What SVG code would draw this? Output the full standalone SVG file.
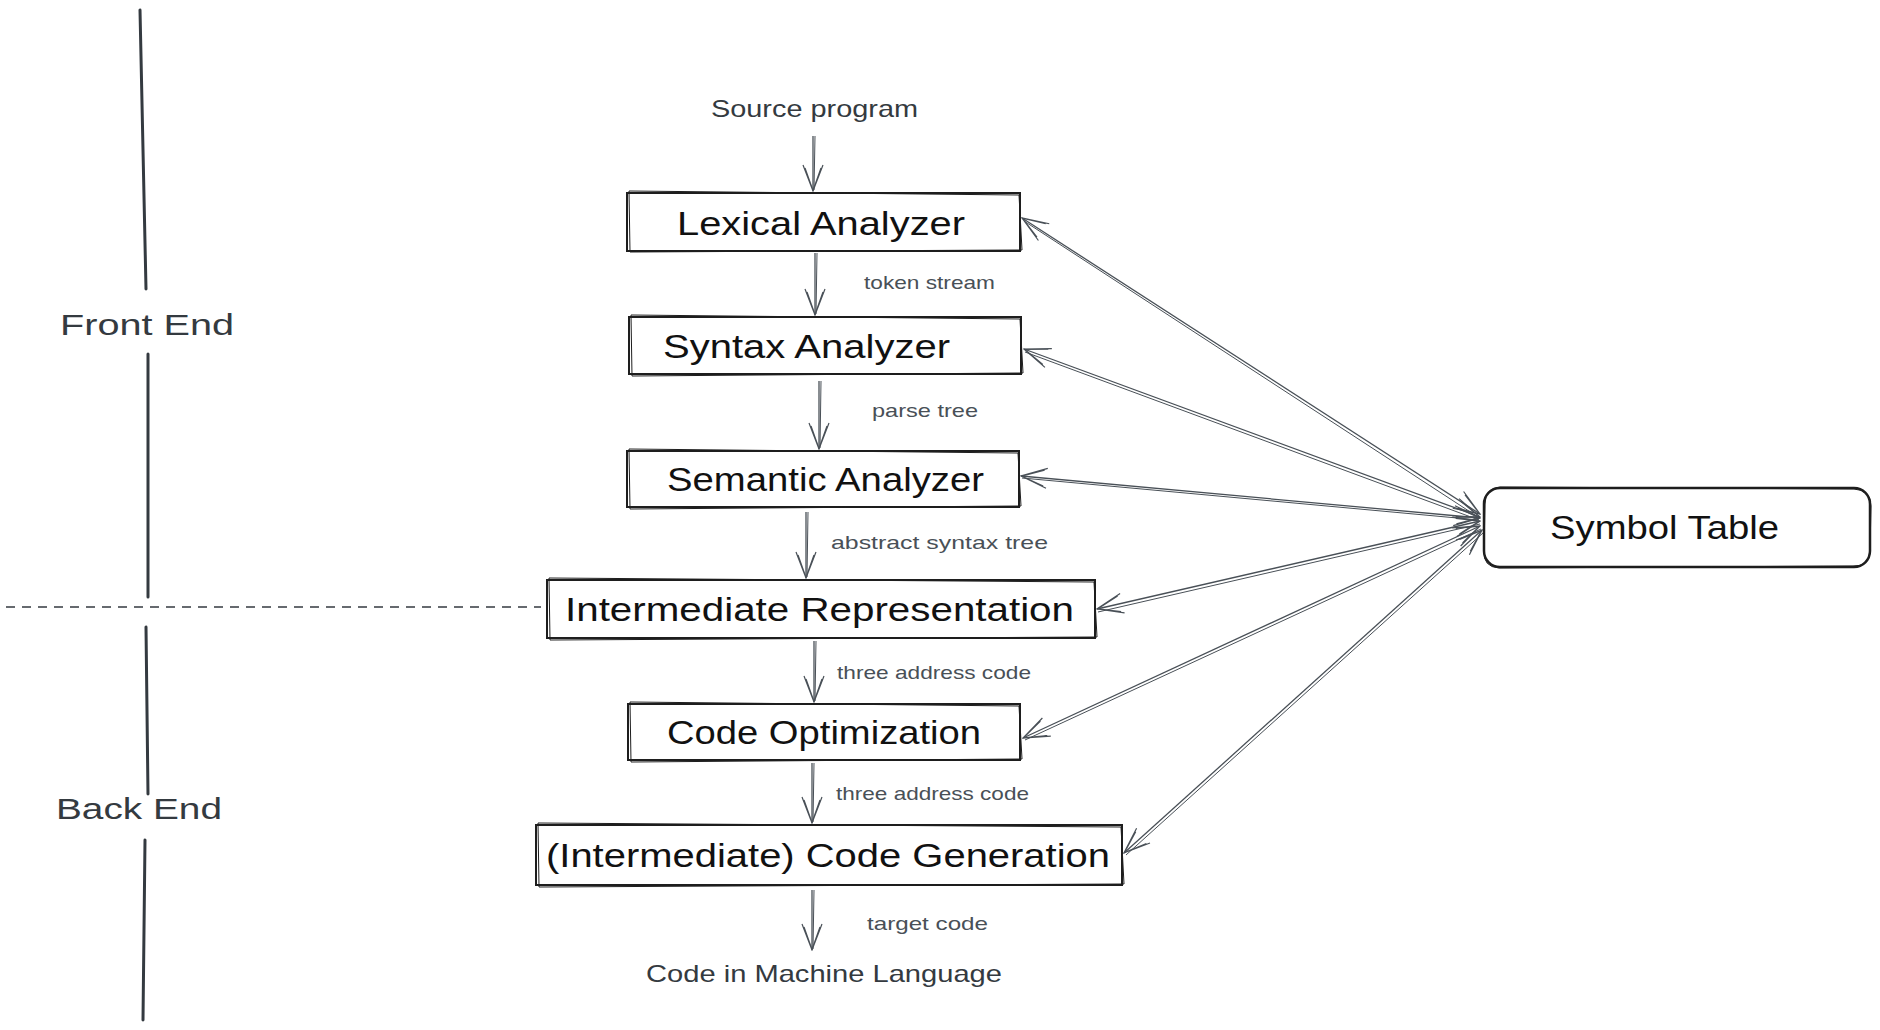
<svg xmlns="http://www.w3.org/2000/svg" width="1880" height="1030" viewBox="0 0 1880 1030">
<style>
.bg{fill:#ffffff}
.box{fill:none;stroke:#1e1e1e;stroke-width:2}
.sk{fill:none;stroke:#1e1e1e;stroke-width:1}
.lbl{font-family:"Liberation Sans","DejaVu Sans",sans-serif;font-size:34px;fill:#111111}
.mid{font-family:"Liberation Sans","DejaVu Sans",sans-serif;font-size:24px;fill:#343a40}
.side{font-family:"Liberation Sans","DejaVu Sans",sans-serif;font-size:30px;fill:#343a40}
.sm{font-family:"Liberation Sans","DejaVu Sans",sans-serif;font-size:19px;fill:#495057}
.ln{fill:none;stroke:#495057;stroke-width:1.3}
.ln2{fill:none;stroke:#495057;stroke-width:1}
.div{fill:none;stroke:#343a40;stroke-width:3;stroke-linecap:round}
.dash{fill:none;stroke:#343a40;stroke-width:1.5;stroke-dasharray:9 7}
</style>
<defs>
<marker id="ah" viewBox="0 0 28 24" refX="27" refY="12" markerWidth="28" markerHeight="24" markerUnits="userSpaceOnUse" orient="auto-start-reverse">
<path d="M1,2 L27,12 L1,22 M4,4 L26.5,12 L4,20" fill="none" stroke="#495057" stroke-width="1.2"/>
</marker>
</defs>
<rect class="bg" x="0" y="0" width="1880" height="1030"/>

<g id="dividers">
<path class="div" d="M140,10 L146,289"/>
<path class="div" d="M148,354 L148,597"/>
<path class="div" d="M146,627 L148,794"/>
<path class="div" d="M145,840 L143,1020"/>
<path class="dash" d="M6,607 L541,607"/>
<text class="side" x="60" y="335" textLength="174" lengthAdjust="spacingAndGlyphs">Front End</text>
<text class="side" x="56" y="819" textLength="166" lengthAdjust="spacingAndGlyphs">Back End</text>
</g>

<g id="connectors">
<path class="ln" d="M813,136 L813,191" marker-end="url(#ah)"/>
<path class="ln2" d="M815,136 L814,190"/>
<path class="ln" d="M815,253 L815,315" marker-end="url(#ah)"/>
<path class="ln2" d="M817,253 L816,314"/>
<path class="ln" d="M819,381 L819,449" marker-end="url(#ah)"/>
<path class="ln2" d="M821,381 L820,448"/>
<path class="ln" d="M806,512 L806,578" marker-end="url(#ah)"/>
<path class="ln2" d="M808,512 L807,577"/>
<path class="ln" d="M814,641 L814,702" marker-end="url(#ah)"/>
<path class="ln2" d="M816,641 L815,701"/>
<path class="ln" d="M812,763 L812,823" marker-end="url(#ah)"/>
<path class="ln2" d="M814,763 L813,822"/>
<path class="ln" d="M812,890 L812,950" marker-end="url(#ah)"/>
<path class="ln2" d="M814,890 L813,949"/>

<path class="ln" d="M1480,514 L1022,218" marker-start="url(#ah)" marker-end="url(#ah)"/>
<path class="ln2" d="M1478,517 L1024,221"/>
<path class="ln" d="M1480,517 L1024,349" marker-start="url(#ah)" marker-end="url(#ah)"/>
<path class="ln2" d="M1479,520 L1025,352"/>
<path class="ln" d="M1480,518 L1021,476" marker-start="url(#ah)" marker-end="url(#ah)"/>
<path class="ln2" d="M1479,520 L1022,478"/>
<path class="ln" d="M1480,521 L1097,609" marker-start="url(#ah)" marker-end="url(#ah)"/>
<path class="ln2" d="M1480,524 L1098,612"/>
<path class="ln" d="M1480,526 L1023,738" marker-start="url(#ah)" marker-end="url(#ah)"/>
<path class="ln2" d="M1481,529 L1025,740"/>
<path class="ln" d="M1482,530 L1124,853" marker-start="url(#ah)" marker-end="url(#ah)"/>
<path class="ln2" d="M1483,533 L1126,855"/>
</g>

<g id="source-program">
<text class="mid" x="711" y="117" textLength="207" lengthAdjust="spacingAndGlyphs">Source program</text>
</g>

<g id="lexical-analyzer">
<rect class="box" x="627" y="193" width="393" height="58"/>
<path class="sk" d="M629,191 L1019,195 L1022,250 L630,252 Z"/>
<text class="lbl" x="677" y="235" textLength="288" lengthAdjust="spacingAndGlyphs">Lexical Analyzer</text>
</g>

<g id="syntax-analyzer">
<rect class="box" x="629" y="317" width="392" height="57"/>
<path class="sk" d="M631,315 L1020,319 L1023,373 L632,376 Z"/>
<text class="lbl" x="663" y="358" textLength="287" lengthAdjust="spacingAndGlyphs">Syntax Analyzer</text>
</g>

<g id="semantic-analyzer">
<rect class="box" x="627" y="451" width="392" height="56"/>
<path class="sk" d="M629,449 L1018,453 L1021,506 L630,509 Z"/>
<text class="lbl" x="667" y="491" textLength="317" lengthAdjust="spacingAndGlyphs">Semantic Analyzer</text>
</g>

<g id="intermediate-representation">
<rect class="box" x="547" y="580" width="548" height="58"/>
<path class="sk" d="M549,578 L1094,582 L1097,637 L550,640 Z"/>
<text class="lbl" x="565" y="621" textLength="509" lengthAdjust="spacingAndGlyphs">Intermediate Representation</text>
</g>

<g id="code-optimization">
<rect class="box" x="628" y="704" width="392" height="56"/>
<path class="sk" d="M630,702 L1019,706 L1022,759 L631,762 Z"/>
<text class="lbl" x="667" y="744" textLength="314" lengthAdjust="spacingAndGlyphs">Code Optimization</text>
</g>

<g id="code-generation">
<rect class="box" x="536" y="825" width="586" height="60"/>
<path class="sk" d="M538,823 L1121,827 L1124,884 L539,887 Z"/>
<text class="lbl" x="546" y="867" textLength="564" lengthAdjust="spacingAndGlyphs">(Intermediate) Code Generation</text>
</g>

<g id="machine-code">
<text class="mid" x="646" y="982" textLength="356" lengthAdjust="spacingAndGlyphs">Code in Machine Language</text>
</g>

<g id="symbol-table">
<rect class="box" x="1484" y="488" width="386" height="79" rx="16" ry="16" style="stroke-width:2.5"/>
<path class="sk" d="M1500,487 L1854,489 Q1871,490 1871,506 L1870,550 Q1869,567 1853,566 L1499,568 Q1483,567 1484,551 L1485,504 Q1485,488 1500,487 Z"/>
<text class="lbl" x="1550" y="539" textLength="229" lengthAdjust="spacingAndGlyphs">Symbol Table</text>
</g>

<g id="edge-labels">
<text class="sm" x="864" y="289" textLength="131" lengthAdjust="spacingAndGlyphs">token stream</text>
<text class="sm" x="872" y="417" textLength="106" lengthAdjust="spacingAndGlyphs">parse tree</text>
<text class="sm" x="831" y="549" textLength="217" lengthAdjust="spacingAndGlyphs">abstract syntax tree</text>
<text class="sm" x="837" y="679" textLength="194" lengthAdjust="spacingAndGlyphs">three address code</text>
<text class="sm" x="836" y="800" textLength="193" lengthAdjust="spacingAndGlyphs">three address code</text>
<text class="sm" x="867" y="930" textLength="121" lengthAdjust="spacingAndGlyphs">target code</text>
</g>
</svg>
